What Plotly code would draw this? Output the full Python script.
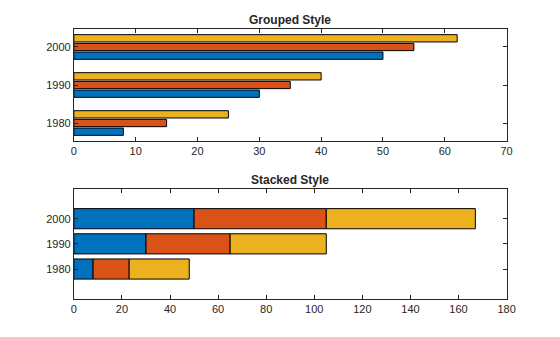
import plotly.graph_objects as go

years = [1980, 1990, 2000]
series_a = [8, 30, 50]
series_b = [15, 35, 55]
series_c = [25, 40, 62]
colors = ["#0072BD", "#D95319", "#EDB120"]
x_ticks_top = [0, 10, 20, 30, 40, 50, 60, 70]
x_ticks_bottom = [0, 20, 40, 60, 80, 100, 120, 140, 160, 180]

fig = go.Figure()
series = [series_a, series_b, series_c]

for vals, c in zip(series, colors):
    fig.add_trace(go.Bar(x=vals, y=years, orientation="h", marker=dict(color=c, line=dict(color="black", width=1)),
                         xaxis="x", yaxis="y", showlegend=False))

base = [0, 0, 0]
for vals, c in zip(series, colors):
    fig.add_trace(go.Bar(x=vals, y=years, base=list(base), orientation="h", width=8, offset=-4,
                         offsetgroup="stack", alignmentgroup="stack",
                         marker=dict(color=c, line=dict(color="black", width=1)),
                         xaxis="x2", yaxis="y2", showlegend=False))
    base = [b + v for b, v in zip(base, vals)]

axcol = "#262626"
font = dict(family="Liberation Sans, Arial, sans-serif", size=11, color=axcol)
common = dict(showline=True, linecolor=axcol, linewidth=1, mirror="ticks", ticks="inside",
              ticklen=4, tickcolor=axcol, showgrid=False, zeroline=False, tickfont=font)

xdom = [0.1293, 0.919]
fig.update_layout(
    width=560, height=337, margin=dict(l=0, r=0, t=0, b=0),
    plot_bgcolor="white", paper_bgcolor="white",
    barmode="group", bargap=0.315, bargroupgap=0.16,
    xaxis=dict(domain=xdom, range=[0, 70], tickvals=x_ticks_top, anchor="y", **common),
    yaxis=dict(domain=[0.5825, 0.913], range=[1975.35, 2004.65], tickvals=years, anchor="x", **common),
    xaxis2=dict(domain=xdom, range=[0, 180], tickvals=x_ticks_bottom, anchor="y2", **common),
    yaxis2=dict(domain=[0.1128, 0.44], range=[1968.1, 2011.9], tickvals=years, anchor="x2", **common),
    annotations=[
        dict(text="<b>Grouped Style</b>", x=(xdom[0] + xdom[1]) / 2, y=1 - 20 / 337, xref="paper", yref="paper",
             yanchor="middle", showarrow=False,
             font=dict(family="Liberation Sans, Arial, sans-serif", size=12, color=axcol)),
        dict(text="<b>Stacked Style</b>", x=(xdom[0] + xdom[1]) / 2, y=1 - 180 / 337, xref="paper", yref="paper",
             yanchor="middle", showarrow=False,
             font=dict(family="Liberation Sans, Arial, sans-serif", size=12, color=axcol)),
    ],
)

fig.write_html("out.html", config={"responsive": False})
